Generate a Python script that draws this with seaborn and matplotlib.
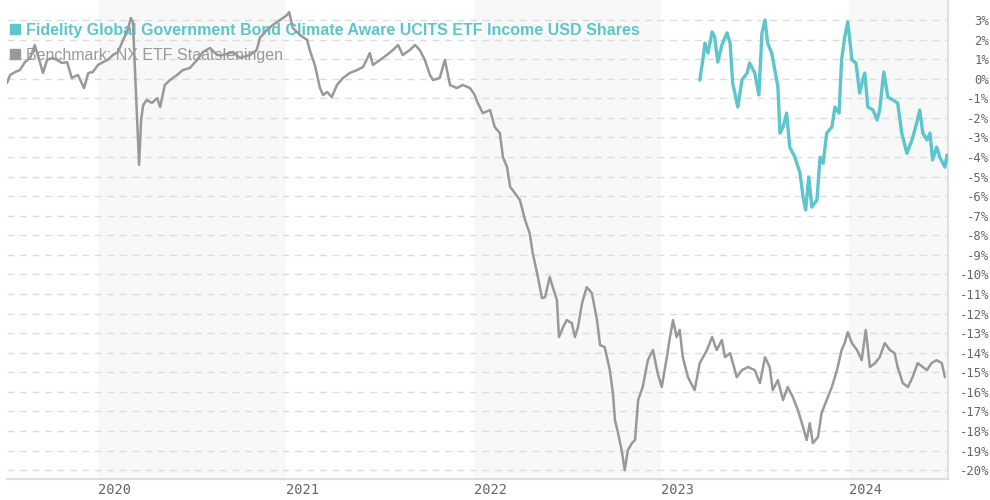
import matplotlib
matplotlib.use("Agg")
import matplotlib.pyplot as plt
from matplotlib.lines import Line2D
from matplotlib.ticker import FixedLocator, FuncFormatter
import seaborn as sns
import pandas as pd

fund_name = "Fidelity Global Government Bond Climate Aware UCITS ETF Income USD Shares"
bench_name = "Benchmark: NX ETF Staatsleningen"

bench_dates = [
    "2019-07-08", "2019-07-14", "2019-07-24", "2019-08-02", "2019-08-12", "2019-08-22", "2019-08-31",
    "2019-09-10", "2019-09-16", "2019-09-24", "2019-10-04", "2019-10-13", "2019-10-23", "2019-11-02",
    "2019-11-11", "2019-11-23", "2019-12-05", "2019-12-13", "2019-12-22", "2020-01-01", "2020-01-11",
    "2020-01-20", "2020-01-30", "2020-02-09", "2020-02-19", "2020-02-28", "2020-03-05", "2020-03-09",
    "2020-03-13", "2020-03-17", "2020-03-21", "2020-03-25", "2020-03-29", "2020-04-05", "2020-04-15",
    "2020-04-25", "2020-05-01", "2020-05-10", "2020-05-20", "2020-06-03", "2020-06-14", "2020-06-28",
    "2020-07-12", "2020-07-23", "2020-08-06", "2020-08-20", "2020-08-31", "2020-09-20", "2020-10-03",
    "2020-10-23", "2020-11-05", "2020-11-11", "2020-11-25", "2020-12-06", "2020-12-20", "2021-01-03",
    "2021-01-07", "2021-01-14", "2021-01-28", "2021-02-11", "2021-02-16", "2021-02-26", "2021-03-08",
    "2021-03-14", "2021-03-22", "2021-03-31", "2021-04-10", "2021-04-22", "2021-05-05", "2021-05-19",
    "2021-05-31", "2021-06-13", "2021-06-19", "2021-07-03", "2021-07-16", "2021-07-28", "2021-08-07",
    "2021-08-16", "2021-08-30", "2021-09-09", "2021-09-18", "2021-09-28", "2021-10-08", "2021-10-14",
    "2021-10-27", "2021-11-06", "2021-11-16", "2021-11-29", "2021-12-11", "2021-12-25", "2022-01-03",
    "2022-01-09", "2022-01-19", "2022-02-02", "2022-02-11", "2022-02-21", "2022-02-27", "2022-03-07",
    "2022-03-13", "2022-03-22", "2022-04-01", "2022-04-11", "2022-04-20", "2022-04-26", "2022-05-06",
    "2022-05-14", "2022-05-20", "2022-05-29", "2022-06-04", "2022-06-12", "2022-06-16", "2022-06-24",
    "2022-07-01", "2022-07-11", "2022-07-17", "2022-07-23", "2022-07-31", "2022-08-09", "2022-08-19",
    "2022-08-29", "2022-09-04", "2022-09-13", "2022-09-23", "2022-09-29", "2022-10-03", "2022-10-09",
    "2022-10-16", "2022-10-22", "2022-10-28", "2022-11-05", "2022-11-11", "2022-11-17", "2022-11-26",
    "2022-12-06", "2022-12-16", "2022-12-25", "2023-01-02", "2023-01-12", "2023-01-18", "2023-01-24",
    "2023-01-31", "2023-02-06", "2023-02-12", "2023-02-22", "2023-03-07", "2023-03-17", "2023-03-31",
    "2023-04-10", "2023-04-19", "2023-04-29", "2023-05-05", "2023-05-15", "2023-05-28", "2023-06-07",
    "2023-06-19", "2023-07-02", "2023-07-12", "2023-07-22", "2023-07-31", "2023-08-06", "2023-08-16",
    "2023-08-26", "2023-09-04", "2023-09-14", "2023-09-24", "2023-10-04", "2023-10-11", "2023-10-17",
    "2023-10-23", "2023-11-02", "2023-11-09", "2023-11-19", "2023-11-29", "2023-12-09", "2023-12-18",
    "2023-12-24", "2023-12-30", "2024-01-07", "2024-01-17", "2024-01-26", "2024-02-03", "2024-02-11",
    "2024-02-21", "2024-03-01", "2024-03-11", "2024-03-21", "2024-03-30", "2024-04-05", "2024-04-15",
    "2024-04-25", "2024-05-04", "2024-05-14", "2024-05-24", "2024-06-01", "2024-06-10", "2024-06-20",
    "2024-06-30", "2024-07-06",
]
bench_values = [
    -0.22, 0.19, 0.34, 0.44, 0.85, 1.06, 1.72,
    0.85, 0.29, 0.96, 1.06, 0.96, 0.80, 0.85,
    0.04, 0.19, -0.48, 0.29, 0.34, 0.70, 0.85,
    0.96, 1.21, 1.36, 1.98, 2.49, 3.10, 2.90,
    0.44, -2.11, -4.40, -2.11, -1.34, -1.09, -1.24,
    -0.99, -1.45, -0.32, -0.07, 0.19, 0.44, 0.55,
    0.96, 1.36, 1.57, 1.21, 1.21, 1.36, 1.06,
    1.21, 1.47, 2.08, 2.49, 2.74, 2.99, 3.25,
    3.41, 2.59, 2.23, 1.98, 1.47, 0.70, -0.48,
    -0.83, -0.68, -0.94, -0.32, 0.04, 0.29, 0.44,
    0.60, 1.31, 0.70, 0.96, 1.21, 1.47, 1.72,
    1.21, 1.47, 1.72, 1.47, 0.96, 0.19, -0.07,
    0.04, 0.96, -0.32, -0.48, -0.32, -0.48, -0.83,
    -1.24, -1.76, -1.60, -2.47, -2.78, -4.01, -4.51,
    -5.53, -5.84, -6.20, -7.22, -7.89, -8.91, -10.13,
    -11.21, -11.16, -10.13, -10.65, -11.31, -13.20, -12.69,
    -12.33, -12.49, -13.20, -12.69, -11.46, -10.65, -10.95,
    -12.33, -13.61, -13.71, -14.89, -16.06, -17.44, -18.11,
    -18.98, -20.00, -18.98, -18.62, -18.46, -16.42, -15.75,
    -14.38, -13.86, -15.04, -15.75, -14.23, -13.20, -12.33,
    -13.20, -12.84, -14.23, -15.25, -15.91, -14.53, -13.86,
    -13.20, -13.86, -13.35, -14.23, -14.02, -15.25, -14.89,
    -14.73, -14.89, -15.55, -14.23, -14.73, -15.91, -15.40,
    -16.42, -15.75, -16.26, -16.93, -17.80, -18.46, -17.60,
    -18.62, -18.31, -17.08, -16.42, -15.75, -14.89, -13.86,
    -13.51, -12.95, -13.51, -13.86, -14.38, -12.84, -14.73,
    -14.53, -14.23, -13.51, -13.86, -14.02, -14.73, -15.55,
    -15.75, -15.25, -14.53, -14.73, -14.89, -14.53, -14.38,
    -14.53, -15.25,
]

fund_dates = [
    "2023-03-17", "2023-03-23", "2023-03-27", "2023-04-02", "2023-04-10", "2023-04-15", "2023-04-21",
    "2023-04-29", "2023-05-09", "2023-05-15", "2023-05-20", "2023-05-30", "2023-06-07", "2023-06-17",
    "2023-06-22", "2023-07-02", "2023-07-10", "2023-07-16", "2023-07-22", "2023-07-27", "2023-08-04",
    "2023-08-10", "2023-08-16", "2023-08-20", "2023-08-26", "2023-09-02", "2023-09-08", "2023-09-18",
    "2023-09-28", "2023-10-04", "2023-10-09", "2023-10-15", "2023-10-21", "2023-10-31", "2023-11-06",
    "2023-11-12", "2023-11-19", "2023-11-29", "2023-12-05", "2023-12-13", "2023-12-18", "2023-12-24",
    "2023-12-30", "2024-01-07", "2024-01-15", "2024-01-22", "2024-01-28", "2024-02-01", "2024-02-07",
    "2024-02-17", "2024-02-25", "2024-03-01", "2024-03-09", "2024-03-17", "2024-03-27", "2024-04-05",
    "2024-04-13", "2024-04-23", "2024-05-03", "2024-05-12", "2024-05-18", "2024-05-24", "2024-06-01",
    "2024-06-07", "2024-06-12", "2024-06-20", "2024-06-26", "2024-07-06", "2024-07-10",
]
fund_values = [
    -0.07, 0.96, 1.82, 1.31, 2.39, 2.13, 0.85,
    1.72, 2.34, 1.82, -0.22, -1.45, -0.07, 0.29,
    0.80, 0.29, -0.83, 2.34, 3.00, 1.82, 1.31,
    0.44, -0.42, -2.78, -2.47, -1.76, -3.49, -4.01,
    -4.82, -6.05, -6.71, -5.02, -6.56, -6.20, -4.01,
    -4.32, -2.78, -2.47, -1.45, -1.76, 0.96, 2.13,
    2.90, 0.96, 0.80, -0.73, -0.07, 0.29, -1.45,
    -1.60, -2.11, -1.60, 0.34, -0.94, -1.09, -1.24,
    -2.78, -3.81, -3.13, -2.27, -1.60, -2.78, -3.13,
    -2.78, -4.15, -3.49, -4.01, -4.52, -3.90,
]

year_ticks = ["2020-01-01", "2021-01-01", "2022-01-01", "2023-01-01", "2024-01-01"]
year_labels = ["2020", "2021", "2022", "2023", "2024"]
shaded_years = [("2020-01-01", "2021-01-01"), ("2022-01-01", "2023-01-01"), ("2024-01-01", "2024-12-31")]
y_ticks = list(range(-20, 4))

TEAL = "#5cc6cc"
GRAY = "#999999"

bench_df = pd.DataFrame({"date": pd.to_datetime(bench_dates), "value": bench_values})
fund_df = pd.DataFrame({"date": pd.to_datetime(fund_dates), "value": fund_values})

sns.set_style("white")
plt.rcParams["font.family"] = ["Liberation Sans", "DejaVu Sans"]

fig = plt.figure(figsize=(9.9, 5.0), dpi=100)
ax = fig.add_axes([7 / 990, 1 - 479 / 500, (948 - 7) / 990, 479 / 500])

xmin = pd.Timestamp("2019-07-08")
xmax = pd.Timestamp("2024-07-12")

for s, e in shaded_years:
    ax.axvspan(pd.Timestamp(s), min(pd.Timestamp(e), xmax), color="#f8f8f8", zorder=0, lw=0)

sns.lineplot(data=bench_df, x="date", y="value", ax=ax, color=GRAY, linewidth=1.8, zorder=3)
sns.lineplot(data=fund_df, x="date", y="value", ax=ax, color=TEAL, linewidth=2.4, zorder=4)

ax.set_xlim(xmin, xmax)
ax.set_ylim(-20.45, 4.02)
ax.set_xlabel("")
ax.set_ylabel("")

ax.yaxis.tick_right()
ax.yaxis.set_major_locator(FixedLocator(y_ticks))
ax.yaxis.set_major_formatter(FuncFormatter(lambda v, p: f"{int(round(v))}%"))
ax.tick_params(axis="y", length=0, pad=29.5, labelsize=8.8, labelcolor="#666666")
for lab in ax.get_yticklabels():
    lab.set_horizontalalignment("right")
    lab.set_fontfamily("DejaVu Sans Mono")

ax.set_xticks([pd.Timestamp(t) for t in year_ticks])
ax.set_xticklabels(year_labels)
ax.tick_params(axis="x", length=0, pad=3, labelsize=9.8, labelcolor="#666666")
for lab in ax.get_xticklabels():
    lab.set_horizontalalignment("left")
    lab.set_fontfamily("DejaVu Sans Mono")

ax.grid(axis="y", color="#dddddd", linestyle=(0, (5, 4)), linewidth=1)
ax.grid(axis="x", visible=False)
ax.set_axisbelow(True)

for side in ["left", "top"]:
    ax.spines[side].set_visible(False)
ax.spines["right"].set_color("#dddddd")
ax.spines["bottom"].set_color("#dddddd")
ax.spines["right"].set_linewidth(1.2)
ax.spines["bottom"].set_linewidth(1.5)

handles = [
    Line2D([], [], marker="s", linestyle="", color=TEAL, markersize=7),
    Line2D([], [], marker="s", linestyle="", color=GRAY, markersize=7),
]
leg = ax.legend(handles, [fund_name, bench_name], loc="upper left",
                bbox_to_anchor=(10 / 990, 1 - 23 / 500), bbox_transform=fig.transFigure,
                frameon=False, borderpad=0, borderaxespad=0, handlelength=0.6,
                handletextpad=0.4, labelspacing=0.6, prop={"size": 11.5})
leg.set_zorder(2)
texts = leg.get_texts()
texts[0].set_color(TEAL)
texts[0].set_fontweight("bold")
texts[1].set_color(GRAY)

fig.savefig("out.png", dpi=100)
